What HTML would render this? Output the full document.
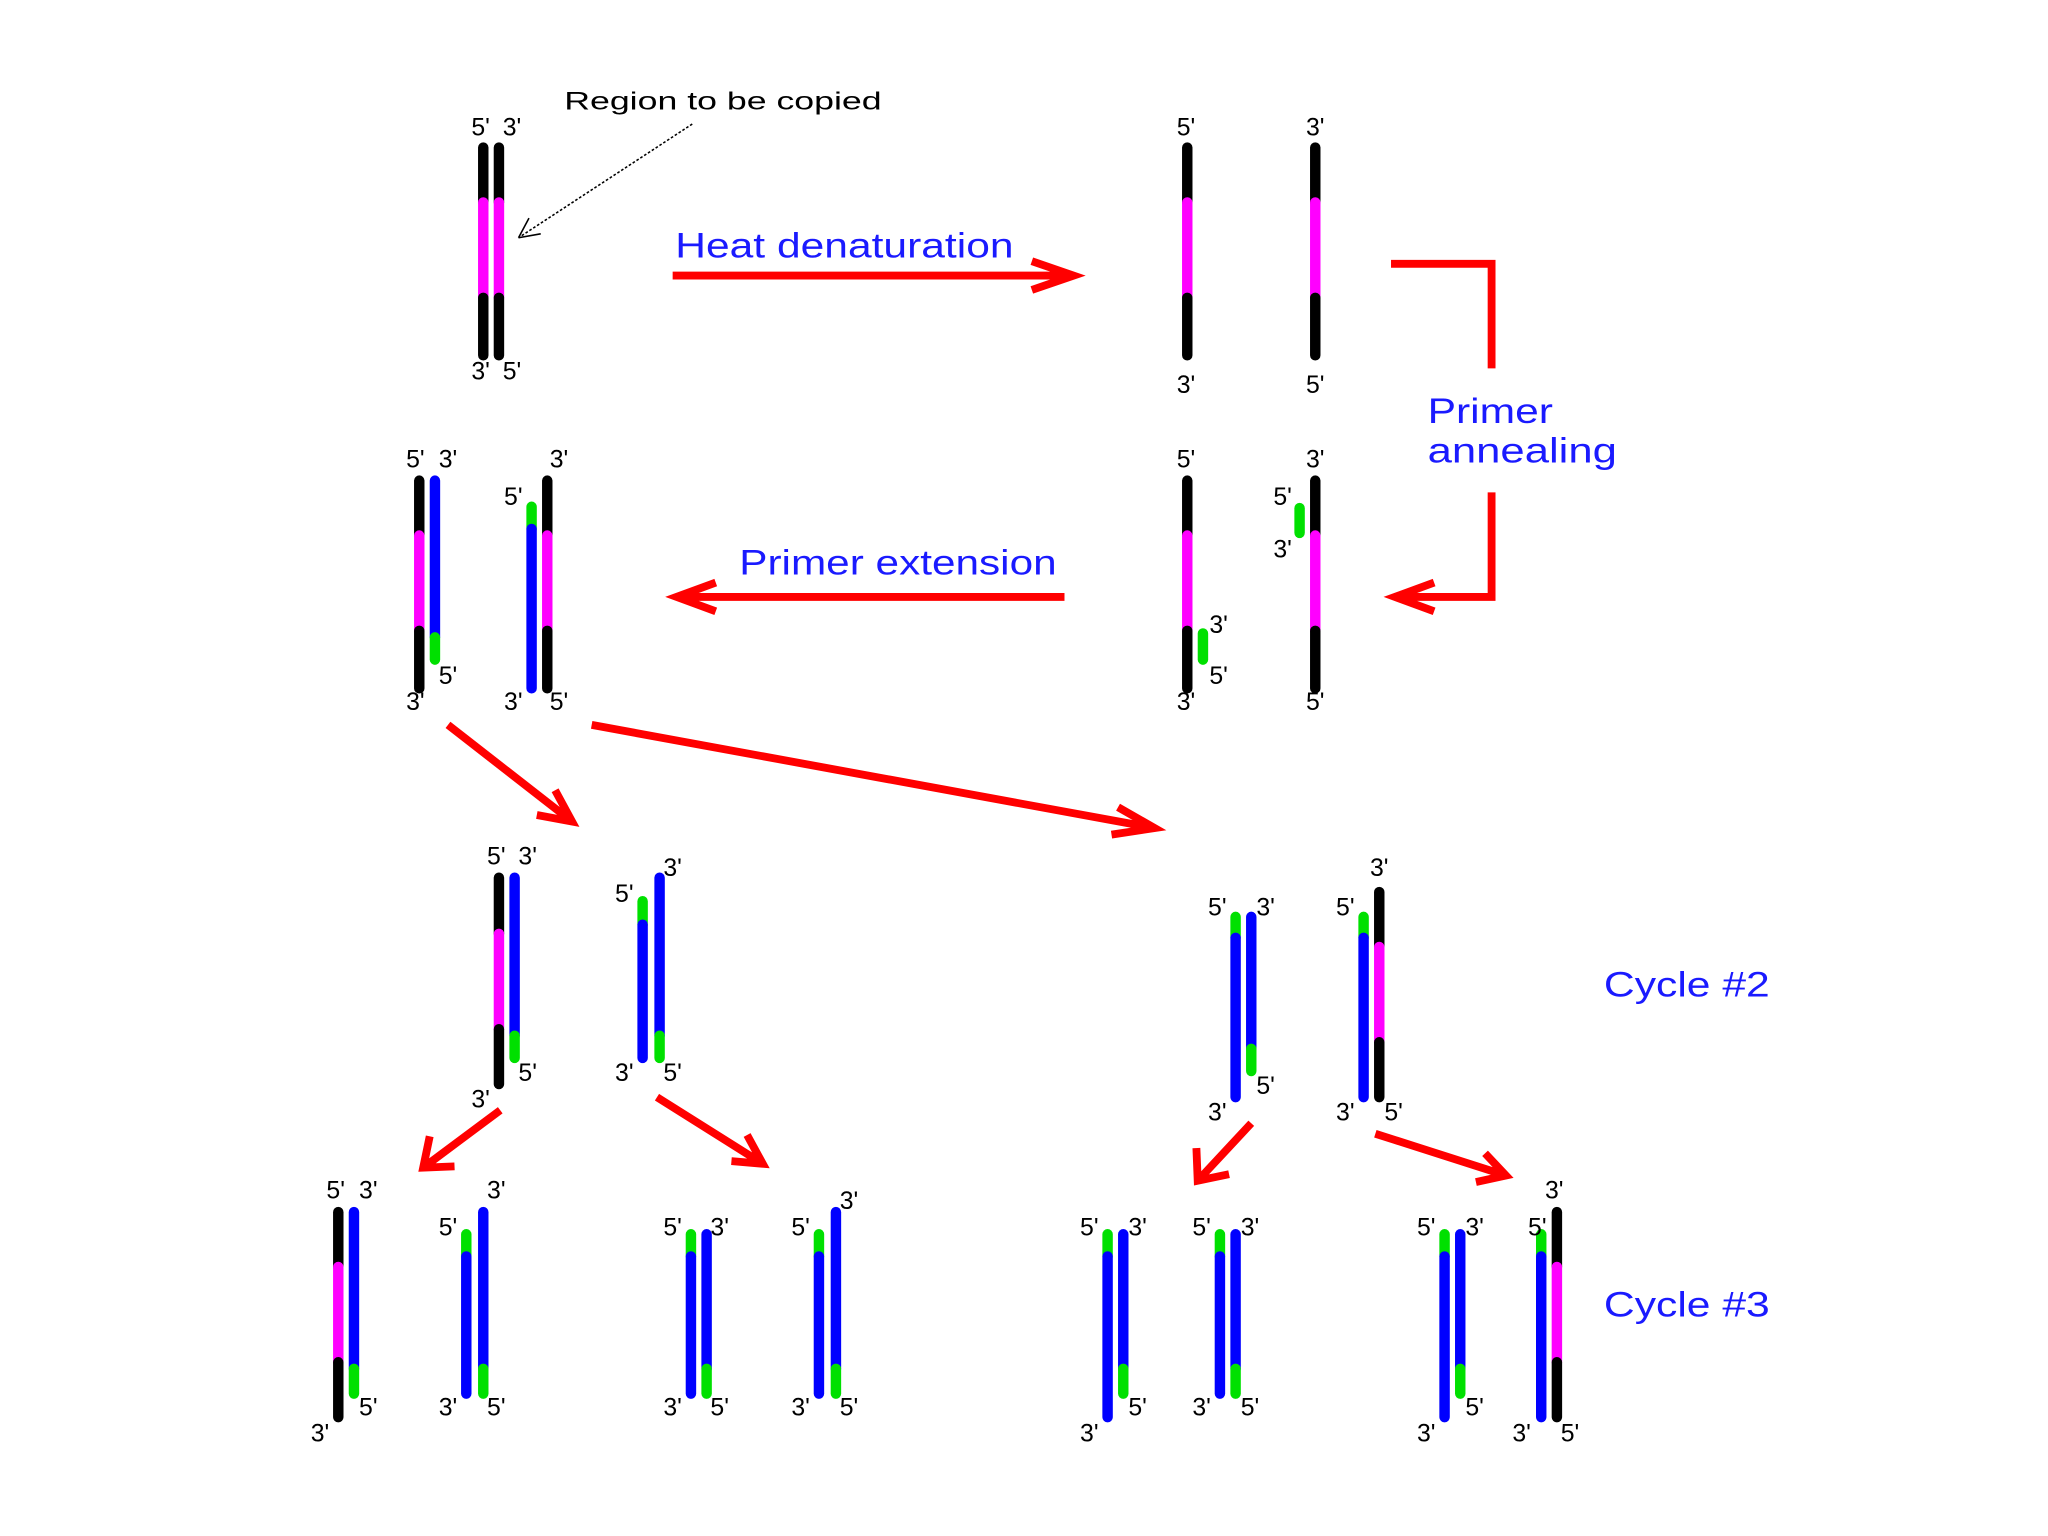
<!DOCTYPE html>
<html><head><meta charset="utf-8"><style>html,body{margin:0;padding:0;background:#fff}svg{display:block}</style></head>
<body>
<svg width="2048" height="1536" viewBox="0 0 1568 1176" xmlns="http://www.w3.org/2000/svg" font-family="Liberation Sans, sans-serif">
<defs>
<style>
.s{stroke-width:8;stroke-linecap:round;fill:none}
.k{stroke:#000}.m{stroke:#f0f}.b{stroke:#0000ff}.g{stroke:#00e000}
.l{font-size:19px;fill:#000;text-anchor:middle;dominant-baseline:central}
.t{font-size:27px;fill:#1a1aff}
.r{stroke:#f00;stroke-width:6;fill:none;stroke-linecap:butt;stroke-linejoin:miter}
</style>
</defs>
<g id="strands">
<line class="s k" x1="370" y1="113" x2="370" y2="155"/><line class="s m" x1="370" y1="155" x2="370" y2="228"/><line class="s k" x1="370" y1="228" x2="370" y2="272"/>
<line class="s k" x1="382" y1="113" x2="382" y2="155"/><line class="s m" x1="382" y1="155" x2="382" y2="228"/><line class="s k" x1="382" y1="228" x2="382" y2="272"/>
<line class="s k" x1="909" y1="113" x2="909" y2="155"/><line class="s m" x1="909" y1="155" x2="909" y2="228"/><line class="s k" x1="909" y1="228" x2="909" y2="272"/>
<line class="s k" x1="1007" y1="113" x2="1007" y2="155"/><line class="s m" x1="1007" y1="155" x2="1007" y2="228"/><line class="s k" x1="1007" y1="228" x2="1007" y2="272"/>
<line class="s k" x1="909" y1="368" x2="909" y2="410"/><line class="s m" x1="909" y1="410" x2="909" y2="483"/><line class="s k" x1="909" y1="483" x2="909" y2="527"/>
<line class="s g" x1="921" y1="485" x2="921" y2="505"/>
<line class="s k" x1="1007" y1="368" x2="1007" y2="410"/><line class="s m" x1="1007" y1="410" x2="1007" y2="483"/><line class="s k" x1="1007" y1="483" x2="1007" y2="527"/>
<line class="s g" x1="995" y1="389" x2="995" y2="408"/>
<line class="s k" x1="321" y1="368" x2="321" y2="410"/><line class="s m" x1="321" y1="410" x2="321" y2="483"/><line class="s k" x1="321" y1="483" x2="321" y2="527"/>
<line class="s b" x1="333" y1="368" x2="333" y2="488"/><line class="s g" x1="333" y1="488" x2="333" y2="505"/>
<line class="s g" x1="407" y1="388" x2="407" y2="405"/><line class="s b" x1="407" y1="405" x2="407" y2="527"/>
<line class="s k" x1="419" y1="368" x2="419" y2="410"/><line class="s m" x1="419" y1="410" x2="419" y2="483"/><line class="s k" x1="419" y1="483" x2="419" y2="527"/>
<line class="s k" x1="382" y1="672" x2="382" y2="715"/><line class="s m" x1="382" y1="715" x2="382" y2="788"/><line class="s k" x1="382" y1="788" x2="382" y2="830"/>
<line class="s b" x1="394" y1="672" x2="394" y2="793"/><line class="s g" x1="394" y1="793" x2="394" y2="810"/>
<line class="s g" x1="492" y1="690" x2="492" y2="708"/><line class="s b" x1="492" y1="708" x2="492" y2="810"/>
<line class="s b" x1="505" y1="672" x2="505" y2="793"/><line class="s g" x1="505" y1="793" x2="505" y2="810"/>
<line class="s g" x1="946" y1="702" x2="946" y2="718"/><line class="s b" x1="946" y1="718" x2="946" y2="840"/>
<line class="s b" x1="958" y1="702" x2="958" y2="803"/><line class="s g" x1="958" y1="803" x2="958" y2="820"/>
<line class="s g" x1="1044" y1="702" x2="1044" y2="718"/><line class="s b" x1="1044" y1="718" x2="1044" y2="840"/>
<line class="s k" x1="1056" y1="683" x2="1056" y2="725"/><line class="s m" x1="1056" y1="725" x2="1056" y2="798"/><line class="s k" x1="1056" y1="798" x2="1056" y2="840"/>
<line class="s k" x1="259" y1="928" x2="259" y2="970"/><line class="s m" x1="259" y1="970" x2="259" y2="1043"/><line class="s k" x1="259" y1="1043" x2="259" y2="1085"/>
<line class="s b" x1="271" y1="928" x2="271" y2="1048"/><line class="s g" x1="271" y1="1048" x2="271" y2="1067"/>
<line class="s g" x1="357" y1="945" x2="357" y2="962"/><line class="s b" x1="357" y1="962" x2="357" y2="1067"/>
<line class="s b" x1="370" y1="928" x2="370" y2="1048"/><line class="s g" x1="370" y1="1048" x2="370" y2="1067"/>
<line class="s g" x1="529" y1="945" x2="529" y2="962"/><line class="s b" x1="529" y1="962" x2="529" y2="1067"/>
<line class="s b" x1="541" y1="945" x2="541" y2="1048"/><line class="s g" x1="541" y1="1048" x2="541" y2="1067"/>
<line class="s g" x1="627" y1="945" x2="627" y2="962"/><line class="s b" x1="627" y1="962" x2="627" y2="1067"/>
<line class="s b" x1="640" y1="928" x2="640" y2="1048"/><line class="s g" x1="640" y1="1048" x2="640" y2="1067"/>
<line class="s g" x1="848" y1="945" x2="848" y2="962"/><line class="s b" x1="848" y1="962" x2="848" y2="1085"/>
<line class="s b" x1="860" y1="945" x2="860" y2="1048"/><line class="s g" x1="860" y1="1048" x2="860" y2="1067"/>
<line class="s g" x1="934" y1="945" x2="934" y2="962"/><line class="s b" x1="934" y1="962" x2="934" y2="1067"/>
<line class="s b" x1="946" y1="945" x2="946" y2="1048"/><line class="s g" x1="946" y1="1048" x2="946" y2="1067"/>
<line class="s g" x1="1106" y1="945" x2="1106" y2="962"/><line class="s b" x1="1106" y1="962" x2="1106" y2="1085"/>
<line class="s b" x1="1118" y1="945" x2="1118" y2="1048"/><line class="s g" x1="1118" y1="1048" x2="1118" y2="1067"/>
<line class="s g" x1="1180" y1="945" x2="1180" y2="962"/><line class="s b" x1="1180" y1="962" x2="1180" y2="1085"/>
<line class="s k" x1="1192" y1="928" x2="1192" y2="970"/><line class="s m" x1="1192" y1="970" x2="1192" y2="1043"/><line class="s k" x1="1192" y1="1043" x2="1192" y2="1085"/>
</g>
<g>
<text class="l" x="368" y="98">5'</text><text class="l" x="392" y="98">3'</text><text class="l" x="368" y="285">3'</text><text class="l" x="392" y="285">5'</text>
<text class="l" x="908" y="98">5'</text><text class="l" x="1007" y="98">3'</text><text class="l" x="908" y="295">3'</text><text class="l" x="1007" y="295">5'</text>
<text class="l" x="908" y="352">5'</text><text class="l" x="933" y="479">3'</text><text class="l" x="933" y="518">5'</text><text class="l" x="908" y="538">3'</text>
<text class="l" x="1007" y="352">3'</text><text class="l" x="982" y="381">5'</text><text class="l" x="982" y="421">3'</text><text class="l" x="1007" y="538">5'</text>
<text class="l" x="318" y="352">5'</text><text class="l" x="343" y="352">3'</text><text class="l" x="343" y="518">5'</text><text class="l" x="318" y="538">3'</text>
<text class="l" x="428" y="352">3'</text><text class="l" x="393" y="381">5'</text><text class="l" x="393" y="538">3'</text><text class="l" x="428" y="538">5'</text>
<text class="l" x="380" y="656">5'</text><text class="l" x="404" y="656">3'</text><text class="l" x="404" y="822">5'</text><text class="l" x="368" y="842">3'</text>
<text class="l" x="515" y="665">3'</text><text class="l" x="478" y="685">5'</text><text class="l" x="478" y="822">3'</text><text class="l" x="515" y="822">5'</text>
<text class="l" x="932" y="695">5'</text><text class="l" x="969" y="695">3'</text><text class="l" x="969" y="832">5'</text><text class="l" x="932" y="852">3'</text>
<text class="l" x="1056" y="665">3'</text><text class="l" x="1030" y="695">5'</text><text class="l" x="1030" y="852">3'</text><text class="l" x="1067" y="852">5'</text>
<text class="l" x="257" y="912">5'</text><text class="l" x="282" y="912">3'</text><text class="l" x="282" y="1078">5'</text><text class="l" x="245" y="1098">3'</text>
<text class="l" x="380" y="912">3'</text><text class="l" x="343" y="940">5'</text><text class="l" x="343" y="1078">3'</text><text class="l" x="380" y="1078">5'</text>
<text class="l" x="515" y="940">5'</text><text class="l" x="551" y="940">3'</text><text class="l" x="515" y="1078">3'</text><text class="l" x="551" y="1078">5'</text>
<text class="l" x="650" y="920">3'</text><text class="l" x="613" y="940">5'</text><text class="l" x="613" y="1078">3'</text><text class="l" x="650" y="1078">5'</text>
<text class="l" x="834" y="940">5'</text><text class="l" x="871" y="940">3'</text><text class="l" x="871" y="1078">5'</text><text class="l" x="834" y="1098">3'</text>
<text class="l" x="920" y="940">5'</text><text class="l" x="957" y="940">3'</text><text class="l" x="920" y="1078">3'</text><text class="l" x="957" y="1078">5'</text>
<text class="l" x="1092" y="940">5'</text><text class="l" x="1129" y="940">3'</text><text class="l" x="1129" y="1078">5'</text><text class="l" x="1092" y="1098">3'</text>
<text class="l" x="1190" y="912">3'</text><text class="l" x="1177" y="940">5'</text><text class="l" x="1165" y="1098">3'</text><text class="l" x="1202" y="1098">5'</text>
</g>
<text x="432" y="84" font-size="19" fill="#000" textLength="243" lengthAdjust="spacingAndGlyphs">Region to be copied</text>
<line x1="530" y1="95" x2="397" y2="182" stroke="#000" stroke-width="1.2" stroke-dasharray="2,1.5"/>
<path d="M397 182 L405 167 M397 182 L414 179" stroke="#000" stroke-width="1.2" fill="none"/>
<text class="t" x="517" y="197" textLength="259" lengthAdjust="spacingAndGlyphs">Heat denaturation</text>
<text class="t" x="566" y="440" textLength="243" lengthAdjust="spacingAndGlyphs">Primer extension</text>
<text class="t" x="1093" y="324" textLength="96" lengthAdjust="spacingAndGlyphs">Primer</text>
<text class="t" x="1093" y="354" textLength="145" lengthAdjust="spacingAndGlyphs">annealing</text>
<text class="t" x="1228" y="763" textLength="127" lengthAdjust="spacingAndGlyphs">Cycle #2</text>
<text class="t" x="1228" y="1008" textLength="127" lengthAdjust="spacingAndGlyphs">Cycle #3</text>
<g class="r">
<path d="M515 211 L822 211 M790 200 L822 211 L790 222"/>
<path d="M1065 202 L1142 202 L1142 282"/>
<path d="M1142 377 L1142 457 L1068 457 M1098 446 L1068 457 L1098 468"/>
<path d="M815 457 L518 457 M548 446 L518 457 L548 468"/>
<path d="M343 555 L438 629 M411 624 L438 629 L425 605"/>
<path d="M453 555 L884 634 M851 639 L884 634 L856 618"/>
<path d="M383 850 L324 894 M329 870 L324 894 L348 893"/>
<path d="M503 840 L584 891 M560 889 L584 891 L572 869"/>
<path d="M958 860 L917 904 M916 879 L917 904 L941 899"/>
<path d="M1053 868 L1153 900 M1130 905 L1153 900 L1137 883"/>
</g>
</svg>
</body></html>
